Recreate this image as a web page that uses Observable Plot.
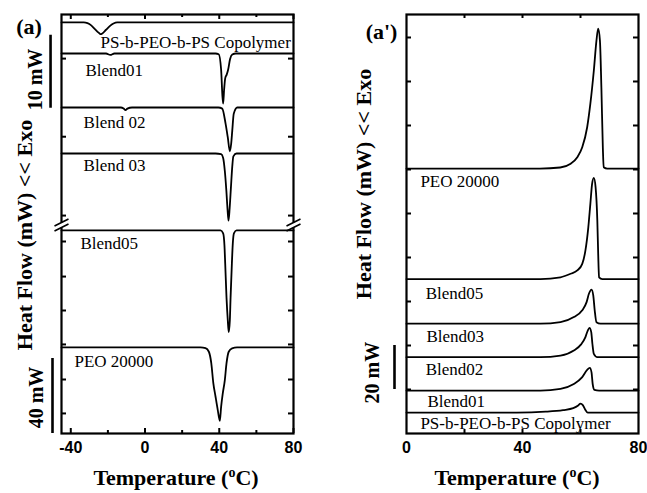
<!DOCTYPE html>
<html><head><meta charset="utf-8">
<script src="https://cdn.jsdelivr.net/npm/d3@7"></script>
<script src="https://cdn.jsdelivr.net/npm/@observablehq/plot@0.6"></script>
<style>
body{margin:0;background:#fff;}
#fig{position:relative;width:647px;height:493px;overflow:hidden;background:#fff;}
#left{position:absolute;left:0;top:0;}
#right{position:absolute;left:330px;top:0;}
.xt{position:absolute;font-family:"Liberation Serif","Times New Roman",serif;font-weight:bold;font-size:22px;line-height:22px;text-align:center;white-space:nowrap;color:#000;}
.xt sup{font-size:14px;vertical-align:0;position:relative;top:-8px;}
</style></head><body>
<div id="fig">
  <div id="left"></div><div id="right"></div>
  <div class="xt" style="left:66px;top:467px;width:220px;">Temperature (<sup>o</sup>C)</div>
  <div class="xt" style="left:407px;top:467px;width:220px;">Temperature (<sup>o</sup>C)</div>
</div>
<script>
// ================= Panel (a): heating scans (mW, broken axis at 110) =================
const tempTicksA = [-40, 0, 40, 80];
const tempMinorA = [-20, 20, 60];
const flowTicksA = [10.7, 28.8, 47.5, 65.6, 83.7, 102.4, 111.6, 122.4, 133.1];
const axisBreakA = [110.3];
const namesA = ["PS-b-PEO-b-PS Copolymer", "Blend01", "Blend 02", "Blend 03", "Blend05", "PEO 20000"];
const offsetsA = [138.05, 133.8, 126.4, 120.1, 108.3, 45.9];
const labelTA = [-24.0, -32.1, -33.1, -33.1, -34.8, -38.0];
const labelYA = [135.3, 131.5, 124.35, 118.45, 101.3, 38.4];

const copoA_T = [-45, -33, -31, -29, -27, -25, -24, -23, -21, -19, -17, -15, 80];
const copoA_Q = [0, 0, -0.1, -0.4, -0.9, -1.4, -1.6, -1.5, -1.0, -0.5, -0.15, 0, 0];
const blend01A_T = [-45, -21, -18.7, -16.5, 38, 39.7, 41.0, 41.7, 42.1, 42.6, 43.2, 44.0, 44.8, 45.8, 47.0, 49, 80];
const blend01A_Q = [0, 0, -0.2, 0, 0, -0.1, -2.2, -5.8, -6.85, -5.0, -3.4, -2.9, -2.2, -0.8, -0.15, 0, 0];
const blend02A_T = [-45, -13, -11.5, -10.5, -9.5, -7, 39.5, 41.6, 43.4, 44.6, 45.7, 46.4, 47.0, 47.8, 49.7, 80];
const blend02A_Q = [0, 0, -0.15, -0.35, -0.15, 0, 0, -0.15, -2.2, -4.1, -6.0, -5.0, -3.2, -0.85, 0, 0];
const blend03A_T = [-45, 38, 41.0, 42.1, 43.0, 43.8, 44.5, 45.0, 45.6, 46.3, 47.0, 47.6, 49.3, 80];
const blend03A_Q = [0, 0, -0.1, -0.6, -2.4, -5.0, -7.8, -9.2, -7.5, -4.6, -1.8, -0.4, 0, 0];
const blend05A_T = [-45, 40.7, 42.1, 42.8, 43.2, 43.9, 44.6, 45.1, 45.7, 46.1, 46.8, 47.3, 47.9, 49.3, 80];
const blend05A_Q = [0, 0, -1.6, -8.0, -17.6, -35.7, -48, -54.2, -48, -35.7, -17.6, -6.9, -1.6, 0, 0];
const peoA_T = [-45, 29.9, 32.6, 34.4, 35.7, 36.8, 38.0, 39.2, 40.3, 41.0, 41.9, 43.0, 43.9, 45.1, 46.9, 49.6, 80];
const peoA_Q = [0, 0, -0.4, -2.3, -8.4, -19, -26.3, -33.4, -39.1, -31.7, -24.5, -17.4, -8.5, -2.3, -0.5, 0, 0];
const scaleBarsA = ["10 mW", "40 mW"];
const scaleBarSizeA = [10, 40];

// ================= Panel (a'): cooling scans =================
const tempTicksB = [0, 40, 80];
const tempMinorB = [20, 40, 60];
const flowTicksB = [20, 40, 60, 80, 100, 120, 140, 160, 180];
const namesB = ["PEO 20000", "Blend05", "Blend03", "Blend02", "Blend01", "PS-b-PEO-b-PS Copolymer"];
const offsetsB = [120.4, 70.2, 49.9, 34.7, 19.5, 9.5];
const labelTB = [4.8, 6.6, 6.9, 6.6, 7.2, 4.8];
const labelYB = [114.5, 63.6, 44.1, 29.1, 14.5, 4.5];

const peoB_T = [0, 40, 46, 53, 56.6, 58.9, 60.6, 62.3, 63.4, 64.6, 65.5, 66.1, 66.7, 67.2, 67.7, 68.0, 69.2, 80];
const peoB_Q = [0, 0, 0, 0.5, 2.2, 5.2, 9.7, 18.8, 29.5, 44.6, 58.2, 63.6, 58.2, 37, 9.7, 0.6, 0, 0];
const blend05B_T = [0, 40, 46.2, 53.1, 56.6, 58.9, 60.6, 61.7, 62.7, 63.4, 64.0, 64.6, 65.2, 65.8, 66.1, 66.4, 67.5, 80];
const blend05B_Q = [0, 0, 0, 0.8, 2.4, 3.9, 6.9, 13, 23.6, 34.2, 43.3, 46, 41.8, 26.6, 11.5, 0.8, 0, 0];
const blend03B_T = [0, 40, 46.2, 53.1, 57.7, 60.6, 62.1, 62.9, 63.8, 64.4, 64.9, 65.5, 66.9, 80];
const blend03B_Q = [0, 0, 0, 0.7, 3.0, 6.1, 9.8, 13.6, 15.5, 12.9, 6.1, 0.7, 0, 0];
const blend02B_T = [0, 40, 46.2, 53.1, 57.7, 60.2, 61.7, 62.5, 63.1, 63.7, 64.1, 64.6, 65.8, 80];
const blend02B_Q = [0, 0, 0, 0.7, 3.0, 5.8, 9.1, 12.1, 13.3, 11.4, 6.1, 1.5, 0, 0];
const blend01B_T = [0, 40, 46.2, 53.1, 57.7, 60.6, 62.3, 63.2, 63.8, 64.2, 64.8, 66.4, 80];
const blend01B_Q = [0, 0, 0, 0.8, 3.0, 6.1, 9.4, 10.3, 8.3, 3.0, 0.3, 0, 0];
const copoB_T = [0, 38, 48, 54, 57.5, 59.2, 60.0, 60.8, 61.6, 62.5, 80];
const copoB_Q = [0, 0, 0.4, 1.1, 2.0, 3.2, 4.1, 3.4, 1.4, 0, 0];
const scaleBarsB = ["20 mW"];
const scaleBarSizeB = [20];

// ---------- helpers ----------
const SERIF = "Liberation Serif, Times New Roman, serif";
const SANS = "Liberation Sans, Arial, sans-serif";
// broken axis of panel (a): above 110 mW the trace scale is magnified
const brokenA = d3.scaleLinear([0, 110, 139.14], [0, 110, 223.47]);
const ident = v => v;
function rows(names, offsets, curves, ymap) {
  return names.flatMap((n, i) => curves[i][0].map((t, j) => ({name: n, T: t, y: ymap(offsets[i] + curves[i][1][j])})));
}
const labelRows = (names, ts, ys, ymap) => names.map((n, i) => ({name: n, T: ts[i], y: ymap(ys[i])}));
const seg = (x1, y1, x2, y2) => ({draw(ctx) { ctx.moveTo(x1, y1); ctx.lineTo(x2, y2); }});
const H = 460, MT = 14, MB = 27, FH = H - MT - MB;
function frameTicksY(vals, len, fw) {
  return [
    Plot.tickY(vals, {y: d => d, insetRight: fw - len, stroke: "black", strokeWidth: 2}),
    Plot.tickY(vals, {y: d => d, insetLeft: fw - len, stroke: "black", strokeWidth: 2})
  ];
}
function frameTicksX(vals, len) {
  return [
    Plot.tickX(vals, {x: d => d, insetTop: FH - len, stroke: "black", strokeWidth: 2}),
    Plot.tickX(vals, {x: d => d, insetBottom: FH - len, stroke: "black", strokeWidth: 2})
  ];
}
function breakMarks(vals, side) {
  return [
    Plot.dot(vals, {y: d => d, frameAnchor: side, symbol: seg(0, -2.5, 0, 2.5), stroke: "white", strokeWidth: 4, fill: "none"}),
    Plot.dot(vals, {y: d => d, frameAnchor: side, dy: -2.5, symbol: seg(-7, 3.5, 7, -3.5), stroke: "black", strokeWidth: 1.6, fill: "none"}),
    Plot.dot(vals, {y: d => d, frameAnchor: side, dy: 2.5, symbol: seg(-7, 3.5, 7, -3.5), stroke: "black", strokeWidth: 1.6, fill: "none"})
  ];
}
const boldSerif = (size) => ({fontFamily: SERIF, fontSize: size, fontWeight: "bold", fill: "black"});

// ---------- panel (a) ----------
const WA = 310, MLA = 61, MRA = 17, FWA = WA - MLA - MRA;
const dataA = rows(namesA, offsetsA, [
  [copoA_T, copoA_Q], [blend01A_T, blend01A_Q], [blend02A_T, blend02A_Q],
  [blend03A_T, blend03A_Q], [blend05A_T, blend05A_Q], [peoA_T, peoA_Q]
], brokenA);
const plotA = Plot.plot({
  width: WA, height: H, marginLeft: MLA, marginRight: MRA, marginTop: MT, marginBottom: MB,
  style: {background: "transparent", fontFamily: SANS, fontSize: "16px", fontWeight: "bold", color: "black", overflow: "visible"},
  x: {domain: [-45, 80], ticks: tempTicksA, tickSize: 0, tickPadding: 8, tickFormat: d => String(d), label: null},
  y: {domain: [0, 223.47], axis: null},
  marks: [
    Plot.frame({stroke: "black", strokeWidth: 2.2}),
    ...frameTicksY(flowTicksA.map(brokenA), 5, FWA),
    ...frameTicksX(tempTicksA, 5),
    ...frameTicksX(tempMinorA, 3),
    ...breakMarks(axisBreakA.map(brokenA), "left"),
    ...breakMarks(axisBreakA.map(brokenA), "right"),
    Plot.line(dataA, {x: "T", y: "y", z: "name", curve: "monotone-x", stroke: "black", strokeWidth: 1.8}),
    Plot.text(labelRows(namesA, labelTA, labelYA, brokenA), {x: "T", y: "y", text: "name", textAnchor: "start", fontFamily: SERIF, fontSize: 17, fontWeight: "normal", fill: "black", clip: true}),
    Plot.ruleX([scaleBarSizeA[0]], {x: -50.9, y1: brokenA(126.3), y2: d => brokenA(126.3 + d), stroke: "black", strokeWidth: 2.6}),
    Plot.ruleX([scaleBarSizeA[1]], {x: -49.85, y1: 0, y2: d => brokenA(d), stroke: "black", strokeWidth: 2.6}),
    Plot.text([scaleBarsA[0]], {x: -59.0, y: brokenA(130.24), rotate: -90, textAnchor: "middle", ...boldSerif(20)}),
    Plot.text([scaleBarsA[1]], {x: -58.5, y: 19.2, rotate: -90, textAnchor: "middle", ...boldSerif(20)}),
    Plot.text(["Heat Flow (mW) << Exo"], {frameAnchor: "left", dx: -37, dy: 11, rotate: -90, textAnchor: "middle", lineAnchor: "middle", ...boldSerif(22)}),
    Plot.text(["(a)"], {frameAnchor: "top-left", dx: -32.5, dy: 12, textAnchor: "middle", lineAnchor: "middle", ...boldSerif(22)})
  ]
});
document.getElementById("left").append(plotA);

// ---------- panel (a') ----------
const WB = 317, MLB = 76, MRB = 9, FWB = WB - MLB - MRB;
const dataB = rows(namesB, offsetsB, [
  [peoB_T, peoB_Q], [blend05B_T, blend05B_Q], [blend03B_T, blend03B_Q],
  [blend02B_T, blend02B_Q], [blend01B_T, blend01B_Q], [copoB_T, copoB_Q]
], ident);
const plotB = Plot.plot({
  width: WB, height: H, marginLeft: MLB, marginRight: MRB, marginTop: MT, marginBottom: MB,
  style: {background: "transparent", fontFamily: SANS, fontSize: "16px", fontWeight: "bold", color: "black", overflow: "visible"},
  x: {domain: [0, 80], ticks: tempTicksB, tickSize: 0, tickPadding: 8, tickFormat: d => String(d), label: null},
  y: {domain: [0, 190.45], axis: null},
  marks: [
    Plot.frame({stroke: "black", strokeWidth: 2.2}),
    ...frameTicksY(flowTicksB, 5, FWB),
    ...frameTicksX(tempMinorB, 4),
    Plot.line(dataB, {x: "T", y: "y", z: "name", curve: "monotone-x", stroke: "black", strokeWidth: 1.8}),
    Plot.text(labelRows(namesB, labelTB, labelYB, ident), {x: "T", y: "y", text: "name", textAnchor: "start", fontFamily: SERIF, fontSize: 17, fontWeight: "normal", fill: "black"}),
    Plot.ruleX(scaleBarSizeB, {x: -4.14, y1: 20, y2: d => 20 + d, stroke: "black", strokeWidth: 2.6}),
    Plot.text(scaleBarsB, {x: -11.7, y: 27.7, rotate: -90, textAnchor: "middle", ...boldSerif(20)}),
    Plot.text(["Heat Flow (mW) << Exo"], {frameAnchor: "left", dx: -43, dy: -40, rotate: -90, textAnchor: "middle", lineAnchor: "middle", ...boldSerif(22)}),
    Plot.text(["(a')"], {frameAnchor: "top-left", dx: -25, dy: 17.5, textAnchor: "middle", lineAnchor: "middle", ...boldSerif(22)})
  ]
});
document.getElementById("right").append(plotB);
</script>
</body></html>
